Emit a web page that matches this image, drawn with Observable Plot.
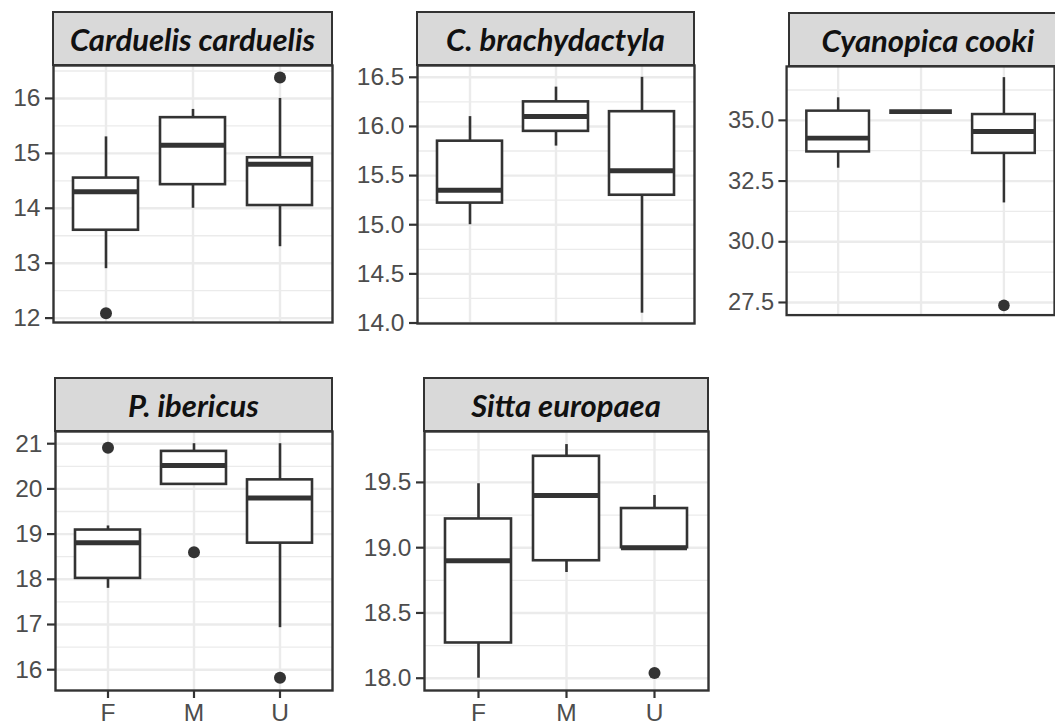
<!DOCTYPE html>
<html>
<head>
<meta charset="utf-8">
<script src="https://cdn.jsdelivr.net/npm/d3@7"></script>
<script src="https://cdn.jsdelivr.net/npm/@observablehq/plot@0.6"></script>
<style>
  html, body { margin: 0; padding: 0; background: #fff; }
  #fig { position: relative; width: 1055px; height: 725px; overflow: hidden; background: #fff; }
  .panel { position: absolute; }
  .panel svg { overflow: visible; background: transparent !important; }
  .strip {
    position: absolute; box-sizing: border-box;
    background: #d9d9d9; border: 2px solid #333;
    font-family: Lato, "Open Sans", sans-serif; font-weight: 700; font-style: italic;
    font-size: 31px; color: #111;
    display: flex; align-items: center; justify-content: center;
    white-space: nowrap; overflow: hidden;
  }
</style>
</head>
<body>
<div id="fig"></div>
<script>
// Bill measurements by sex (F, M, U) for five bird species: box-plot summaries.
const species = ["Carduelis carduelis", "C. brachydactyla", "Cyanopica cooki", "P. ibericus", "Sitta europaea"];
const sexes = ["F", "M", "U"];

// One row per species, one value per sex (F, M, U)
const whiskerLow  = [[12.9, 14.0, 13.3], [15.0, 15.8, 14.1], [33.03, 35.36, 31.6], [17.8, 20.1, 16.93], [18.0, 18.81, 19.0]];
const quartile1   = [[13.6, 14.43, 14.05], [15.22, 15.95, 15.3], [33.7, 35.36, 33.64], [18.02, 20.1, 18.8], [18.27, 18.9, 19.0]];
const medians     = [[14.3, 15.15, 14.8], [15.35, 16.1, 15.55], [34.27, 35.36, 34.54], [18.81, 20.52, 19.8], [18.9, 19.4, 19.0]];
const quartile3   = [[14.55, 15.65, 14.92], [15.85, 16.25, 16.15], [35.38, 35.36, 35.24], [19.09, 20.83, 20.2], [19.22, 19.7, 19.3]];
const whiskerHigh = [[15.3, 15.8, 16.0], [16.1, 16.4, 16.5], [35.93, 35.36, 36.76], [19.18, 21.0, 21.0], [19.49, 19.79, 19.4]];

// Outlying points
const outlierSpecies = [0, 0, 2, 3, 3, 3, 4];
const outlierSex     = ["F", "U", "U", "F", "M", "U", "U"];
const outlierValue   = [12.09, 16.38, 27.38, 20.91, 18.6, 15.82, 18.04];

// Y-axis breaks per species
const yTicks = [[12, 13, 14, 15, 16], [14.0, 14.5, 15.0, 15.5, 16.0, 16.5], [27.5, 30.0, 32.5, 35.0], [16, 17, 18, 19, 20, 21], [18.0, 18.5, 19.0, 19.5]];
const yTickDecimals = [0, 1, 1, 0, 1];

// Free y-scale extents per facet
const yDomains = [[11.92, 16.6], [13.995, 16.62], [26.98, 37.22], [15.54, 21.27], [17.906, 19.89]];

// Facet layout: plot-area box on the page, and whether the x axis is shown
const layout = [
  {left: 53,  top: 65,  width: 279, height: 257, xAxis: false},
  {left: 417, top: 65,  width: 277, height: 258, xAxis: false},
  {left: 789, top: 66,  width: 278, height: 258, xAxis: false},
  {left: 55,  top: 431, width: 277, height: 259, xAxis: true},
  {left: 424, top: 431, width: 284, height: 259, xAxis: true}
];
const stripHeight = 55;

const fig = document.getElementById("fig");
const ink = "#333333";
const grid = "#ebebeb";

species.forEach((name, i) => {
  const rows = sexes.map((s, j) => ({
    sex: s,
    low: whiskerLow[i][j], q1: quartile1[i][j], median: medians[i][j],
    q3: quartile3[i][j], high: whiskerHigh[i][j]
  }));
  const outliers = outlierValue
    .map((v, k) => ({species: outlierSpecies[k], sex: outlierSex[k], value: v}))
    .filter(d => d.species === i);

  const ticks = yTicks[i];
  const step = ticks[1] - ticks[0];
  const [lo, hi] = yDomains[i];
  // minor breaks halfway between major ones, within the panel
  const minor = d3.range(ticks[0] - step / 2, hi, step).filter(v => v > lo && v < hi);

  const L = layout[i];
  const mL = 80, mR = 1, mT = 1, mB = L.xAxis ? 34 : 2;

  const marks = [
    Plot.ruleY(minor, {stroke: grid, strokeWidth: 1.3}),
    Plot.gridY({ticks, stroke: grid, strokeOpacity: 1, strokeWidth: 2.4}),
    Plot.gridX({stroke: grid, strokeOpacity: 1, strokeWidth: 2.4}),
    Plot.axisY({
      ticks, tickSize: 8, tickPadding: 5, label: null,
      tickFormat: d3.format(`.${yTickDecimals[i]}f`),
      stroke: ink, strokeWidth: 2.2, fill: "#4d4d4d"
    }),
    Plot.ruleX(rows, {x: "sex", y1: "low", y2: "high", stroke: ink, strokeWidth: 2.6}),
    Plot.barY(rows, {x: "sex", y1: "q1", y2: "q3", fill: "white", stroke: ink, strokeWidth: 2.6}),
    Plot.tickY(rows, {x: "sex", y: "median", stroke: ink, strokeWidth: 5}),
    Plot.dot(outliers, {x: "sex", y: "value", r: 6, fill: ink, stroke: "none"}),
    Plot.frame({stroke: ink, strokeWidth: 2.4})
  ];
  if (L.xAxis) {
    marks.push(Plot.axisX({tickSize: 8, tickPadding: 5, label: null, stroke: ink, strokeWidth: 2.2, fill: "#4d4d4d"}));
  } else {
    marks.push(Plot.axisX({ticks: [], label: null}));
  }

  const chart = Plot.plot({
    width: mL + L.width + mR,
    height: mT + L.height + mB,
    marginLeft: mL, marginRight: mR, marginTop: mT, marginBottom: mB,
    style: {fontFamily: "'Liberation Sans', Arial, sans-serif", fontSize: "24.5px", color: "#4d4d4d", background: "transparent"},
    x: {type: "band", domain: sexes, paddingInner: 0.25, paddingOuter: 0.225, align: 0.5, axis: null},
    y: {domain: yDomains[i], axis: null},
    marks
  });

  const holder = document.createElement("div");
  holder.className = "panel";
  holder.style.left = (L.left - mL) + "px";
  holder.style.top = (L.top - mT) + "px";
  holder.appendChild(chart);
  fig.appendChild(holder);

  const strip = document.createElement("div");
  strip.className = "strip";
  strip.style.left = (L.left - 1) + "px";
  strip.style.top = (L.top - stripHeight + 1) + "px";
  strip.style.width = (L.width + 2) + "px";
  strip.style.height = stripHeight + "px";
  strip.textContent = name;
  fig.appendChild(strip);
});
</script>
</body>
</html>
